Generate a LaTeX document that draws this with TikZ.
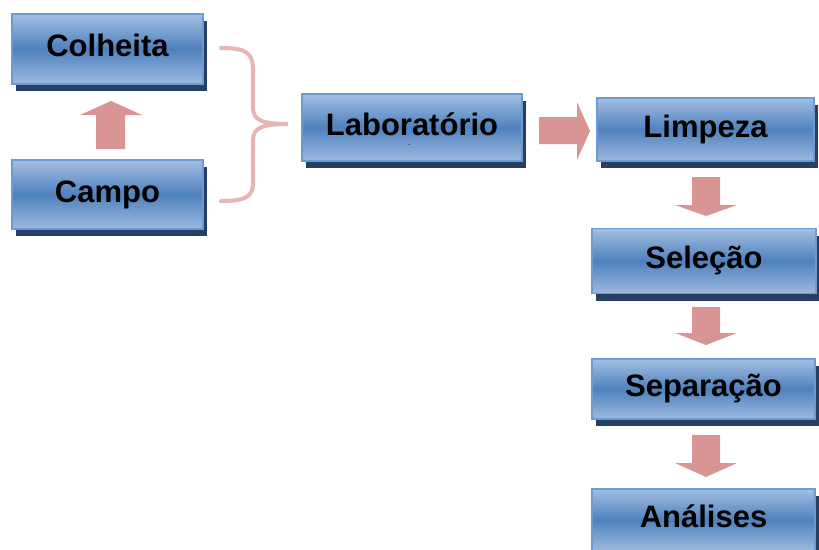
\documentclass[tikz,border=0pt]{standalone}
\usepackage{fontspec}
\setmainfont{Liberation Sans}
\usetikzlibrary{calc,shadows}
\definecolor{boxtop}{HTML}{A3BFE3}
\definecolor{boxmid}{HTML}{4F81BD}
\definecolor{boxbot}{HTML}{9DBAE0}
\definecolor{boxline}{HTML}{6C9AD3}
\definecolor{boxshadow}{HTML}{263F63}
\definecolor{arrowpink}{HTML}{D99594}
\definecolor{bracepink}{HTML}{E6B5B4}
\tikzset{
  stepbox/.style={rectangle, draw=boxline, line width=1.2pt,
    top color=boxtop, bottom color=boxbot, middle color=boxmid,
    font=\fontsize{31}{31}\selectfont\bfseries, text=black,
    text height=22pt, text depth=7pt, inner sep=0pt,
    drop shadow={shadow xshift=4pt, shadow yshift=-7pt, fill=boxshadow, opacity=1}},
  blockarrow/.style={fill=arrowpink, draw=none},
  bracestyle/.style={draw=bracepink, line width=4pt, line cap=round}
}
\begin{document}
\begin{tikzpicture}[x=1pt,y=-1pt]
\useasboundingbox (0,0) rectangle (819,549);
% boxes
\node[stepbox, minimum width=191pt, minimum height=70pt] (colheita) at (107.5,49) {Colheita};
\node[stepbox, minimum width=191pt, minimum height=69pt] (campo) at (107.5,194.5) {Campo};
\node[stepbox, minimum width=220pt, minimum height=67pt] (lab) at (412,127.5) {Laboratório};
\node[font=\fontsize{6}{6}\selectfont] (dash) at (409,146) {-};
\node[stepbox, minimum width=217pt, minimum height=63pt] (limpeza) at (705.5,129.5) {Limpeza};
\node[stepbox, minimum width=224pt, minimum height=65pt] (selecao) at (704,261) {Seleção};
\node[stepbox, minimum width=223pt, minimum height=60pt] (separacao) at (703.5,389) {Separação};
\node[stepbox, minimum width=223pt, minimum height=62pt] (analises) at (703.5,520) {Análises};
% up arrow campo -> colheita
\fill[blockarrow] (96,149) -- (96,115) -- (80,115) -- (111,101) -- (142,115) -- (125,115) -- (125,149) -- cycle;
% right arrow lab -> limpeza
\fill[blockarrow] (539,117) -- (577,117) -- (577,102) -- (590,131) -- (577,160) -- (577,144) -- (539,144) -- cycle;
% down arrows
\foreach \ya/\yb/\yc in {177/205/216, 307/333/345, 435/463/477}{
  \fill[blockarrow] (692,\ya) -- (720,\ya) -- (720,\yb) -- (737,\yb) -- (706,\yc) -- (675,\yb) -- (692,\yb) -- cycle;
}
% brace
\draw[bracestyle] (221,48) .. controls (245,48) and (253,52) .. (253,70) -- (253,108)
  .. controls (253,120) and (262,124) .. (288,124)
  .. controls (262,124) and (253,128) .. (253,140) -- (253,183)
  .. controls (253,197) and (245,201) .. (221,201);
\end{tikzpicture}
\end{document}
